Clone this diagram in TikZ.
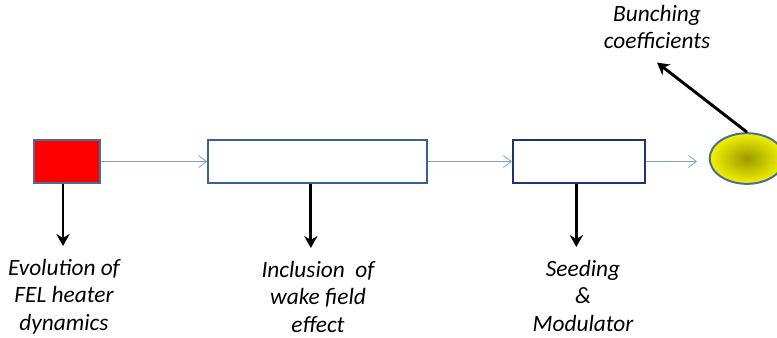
\documentclass[tikz,border=0pt]{standalone}
\usepackage{fontspec}
\setmainfont{Carlito}
\usepackage{tikz}
\usetikzlibrary{arrows.meta, shapes.geometric}

\definecolor{edgeblue}{HTML}{4A6C9B}
\definecolor{midblue}{HTML}{3B5F97}
\definecolor{navyblue}{HTML}{1F3470}
\definecolor{flowblue}{HTML}{7F9FCF}
\definecolor{bunchcore}{HTML}{9C9A00}
\definecolor{bunchyellow}{HTML}{F2F200}

\tikzset{
    stagebox/.style={draw=midblue, fill=white, line width=1.5pt, minimum height=32pt, inner sep=0pt},
    flowarrow/.style={draw=flowblue, line width=0.6pt, -{Straight Barb[length=6pt,width=9pt]}},
    downarrow/.style={draw=black, line width=2.2pt, -{Stealth[length=9pt,width=10pt]}},
    caption/.style={align=center, inner sep=0pt, font=\fontsize{17.5}{20.5}\selectfont\itshape}
}

\begin{document}
\begin{tikzpicture}[x=0.75pt, y=-0.75pt]
\useasboundingbox (0,0) rectangle (777,337);

\begin{scope}
    \node[stagebox, fill=red, draw=edgeblue, minimum width=49.5pt] (heater) at (67,161.5) {};
    \node[stagebox, minimum width=164pt] (wake) at (317.5,161.5) {};
    \node[stagebox, draw=navyblue, minimum width=99pt] (seed) at (579,161.5) {};
    \node[ellipse, draw=edgeblue, line width=1.5pt, inner sep=0pt,
          minimum width=56pt, minimum height=38pt,
          inner color=bunchcore, outer color=bunchyellow] (bunch) at (747,158.5) {};
    \coordinate (bunchin) at (697,161.5);

    \node[caption, anchor=north] (evol) at (64,259) {Evolution of\\FEL heater\\dynamics};
    \node[caption, anchor=north] (incl) at (318,261) {Inclusion~~of\\wake field\\effect};
    \node[caption, anchor=north] (seedtxt) at (583,260) {Seeding\\\&\\Modulator};
    \node[caption, anchor=north] (coef) at (657,5) {Bunching\\coefficients};
\end{scope}

\begin{scope}
    \path [flowarrow] (heater) edge (wake);
    \path [flowarrow] (wake) edge (seed);
    \path [flowarrow] (seed) edge (bunchin);

    \draw [downarrow] ([xshift=-3pt]heater.south) -- ([xshift=-3pt]heater.south |- 0,246);
    \draw [downarrow] ([xshift=-5pt]wake.south) -- ([xshift=-5pt]wake.south |- 0,248);
    \draw [downarrow] ([xshift=-2pt]seed.south) -- ([xshift=-2pt]seed.south |- 0,247);
    \draw [downarrow] (bunch.north) -- ([yshift=-10pt]coef.south);
\end{scope}
\end{tikzpicture}
\end{document}
